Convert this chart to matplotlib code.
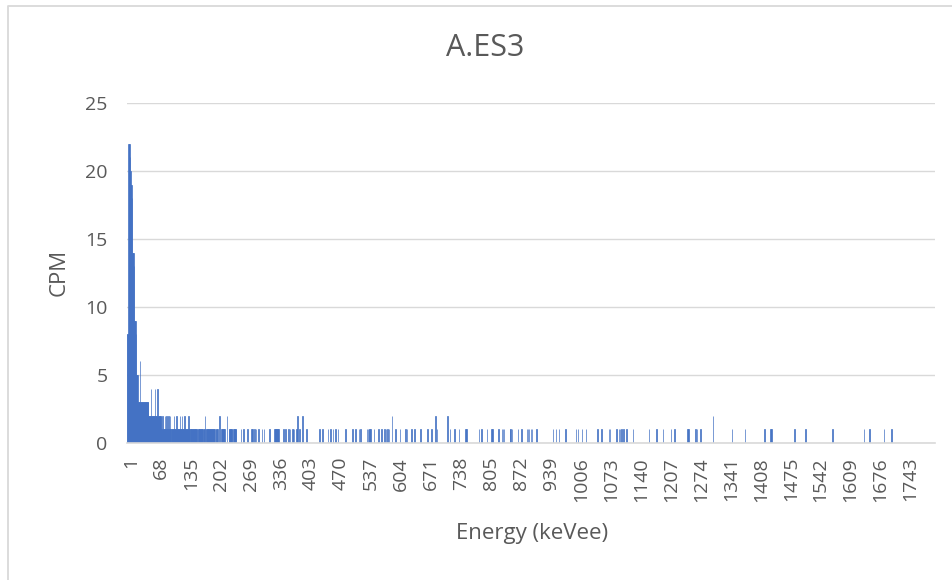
import numpy as np
import matplotlib
matplotlib.use("Agg")
import matplotlib.pyplot as plt
from matplotlib.lines import Line2D
from matplotlib.transforms import ScaledTranslation

title = "A.ES3"
x_label = "Energy (keVee)"
y_label = "CPM"
n_bins = 1806
tick_step = 67
y_ticks = [0, 5, 10, 15, 20, 25]

# counts for energy bins 1..250
low_counts = [
    8, 8, 8, 22, 22, 22, 21, 20, 19, 19,
    19, 18, 14, 14, 14, 13, 9, 9, 9, 8,
    5, 5, 5, 5, 3, 3, 3, 3, 6, 3,
    3, 3, 3, 3, 3, 3, 3, 2, 3, 3,
    3, 3, 3, 3, 3, 3, 3, 3, 2, 2,
    2, 2, 2, 4, 2, 2, 2, 2, 2, 2,
    2, 2, 4, 2, 2, 2, 2, 2, 4, 2,
    2, 2, 2, 2, 2, 2, 1, 1, 1, 2,
    1, 1, 1, 1, 2, 1, 1, 1, 2, 1,
    1, 1, 2, 1, 1, 1, 2, 1, 0, 1,
    1, 1, 1, 1, 1, 2, 1, 1, 1, 1,
    2, 1, 1, 1, 1, 1, 1, 1, 2, 1,
    1, 1, 2, 1, 1, 1, 1, 1, 2, 1,
    1, 1, 1, 1, 1, 1, 1, 2, 1, 1,
    0, 1, 1, 1, 1, 1, 1, 1, 1, 1,
    1, 1, 1, 1, 1, 1, 1, 0, 1, 1,
    1, 1, 1, 1, 1, 1, 1, 1, 1, 1,
    0, 1, 1, 1, 2, 0, 1, 1, 1, 1,
    1, 1, 1, 1, 1, 1, 1, 1, 1, 1,
    0, 1, 1, 1, 1, 1, 0, 0, 1, 0,
    1, 0, 1, 0, 0, 0, 2, 0, 0, 0,
    0, 1, 1, 1, 1, 1, 1, 1, 0, 0,
    0, 0, 0, 2, 0, 0, 0, 0, 1, 1,
    1, 1, 1, 1, 1, 0, 0, 0, 1, 1,
    1, 1, 1, 1, 0, 0, 0, 0, 0, 0,
]

# non-zero bins above 250
sparse_energy = [
    255, 261, 270, 279, 281, 285, 289, 294, 302, 307, 319,
    330, 331, 332, 333, 334, 335, 336, 337, 338, 339,
    350, 355, 361, 365, 370, 372, 374, 379, 382, 386, 393, 402,
    431, 437, 450, 455, 461, 467, 472, 489, 505, 511, 519, 522,
    537, 539, 541, 543, 545, 552, 563, 569, 576, 580, 583, 586,
    593, 601, 611, 623, 626, 636, 643, 657, 672, 681, 690, 693,
    717, 723, 733, 743, 757, 759, 787, 793, 805, 815, 817, 831,
    839, 841, 843, 856, 858, 861, 874, 882, 895, 897, 899, 903,
    906, 916, 953, 959, 966, 981, 1004, 1009, 1018, 1026, 1052,
    1061, 1078, 1080, 1095, 1100, 1103, 1106, 1110, 1117, 1131,
    1167, 1184, 1198, 1216, 1224, 1253, 1256, 1271, 1274, 1282,
    1310, 1353, 1382, 1425, 1439, 1441, 1492, 1517, 1577, 1648,
    1660, 1692, 1709,
]
sparse_count = [
    1, 1, 1, 1, 1, 1, 1, 1, 1, 1, 1,
    1, 1, 1, 1, 1, 1, 1, 1, 1, 1,
    1, 1, 1, 1, 1, 1, 1, 1, 2, 1, 2, 1,
    1, 1, 1, 1, 1, 1, 1, 1, 1, 1, 1, 1,
    1, 1, 1, 1, 1, 1, 1, 1, 1, 1, 1, 1,
    2, 1, 1, 1, 1, 1, 1, 1, 1, 1, 2, 1,
    2, 1, 1, 1, 1, 1, 1, 1, 1, 1, 1, 1,
    1, 1, 1, 1, 1, 1, 1, 1, 1, 1, 1, 1,
    1, 1, 1, 1, 1, 1, 1, 1, 1, 1, 1,
    1, 1, 1, 1, 1, 1, 1, 1, 1, 1,
    1, 1, 1, 1, 1, 1, 1, 1, 1, 1,
    2, 1, 1, 1, 1, 1, 1, 1, 1, 1,
    1, 1, 1,
]

energies = np.arange(1, n_bins + 1)
counts = np.zeros(n_bins)
counts[:len(low_counts)] = low_counts
counts[np.array(sparse_energy) - 1] = sparse_count

font = "Open Sans"
txt = "#595959"
grid_c = "#d9d9d9"
bar_c = "#4472C4"

W, H = 953, 580
fig = plt.figure(figsize=(W / 100, H / 100), dpi=100)
fig.patch.set_facecolor("white")
ax = fig.add_axes([127 / W, 1 - 443 / H, 808 / W, 340 / H])

ax.bar(energies, counts, width=1.0, color=bar_c, edgecolor=bar_c,
       linewidth=0.5, zorder=3)

ax.set_xlim(0.5, n_bins + 0.5)
ax.set_ylim(0, 25)
ax.set_yticks(y_ticks)
ax.set_xticks(energies[::tick_step])
ax.set_xticklabels([str(e) for e in energies[::tick_step]], rotation=90)

ax.grid(axis="y", color=grid_c, linewidth=1.0, zorder=0)
ax.set_axisbelow(True)
for s in ["left", "right", "top"]:
    ax.spines[s].set_visible(False)
ax.spines["bottom"].set_color(grid_c)
ax.spines["bottom"].set_linewidth(1.2)
ax.spines["bottom"].set_zorder(4)

ax.tick_params(axis="y", length=0, pad=14, labelsize=14, labelcolor=txt)
ax.tick_params(axis="x", length=0, pad=10, labelsize=14, labelcolor=txt)
shift = ScaledTranslation(4 / 100, 0, fig.dpi_scale_trans)
for lab in ax.get_xticklabels():
    lab.set_fontfamily(font)
    lab.set_transform(lab.get_transform() + shift)
for lab in ax.get_yticklabels():
    lab.set_fontfamily(font)

fig.text(485 / W, 1 - 48 / H, title, ha="center", va="center",
         fontsize=22, color=txt, family=font)
fig.text(532 / W, 1 - 534 / H, x_label, ha="center", va="center",
         fontsize=16, color=txt, family=font)
fig.text(59 / W, 1 - 272 / H, y_label, ha="center", va="center",
         fontsize=16, color=txt, family=font, rotation=90)

# chart-area border (cut at right and bottom)
fig.add_artist(Line2D([8.5 / W, 8.5 / W, 1.0], [0.0, 1 - 5.5 / H, 1 - 5.5 / H],
                      transform=fig.transFigure, color=grid_c, linewidth=1.3))

fig.savefig("out.png", dpi=100)
